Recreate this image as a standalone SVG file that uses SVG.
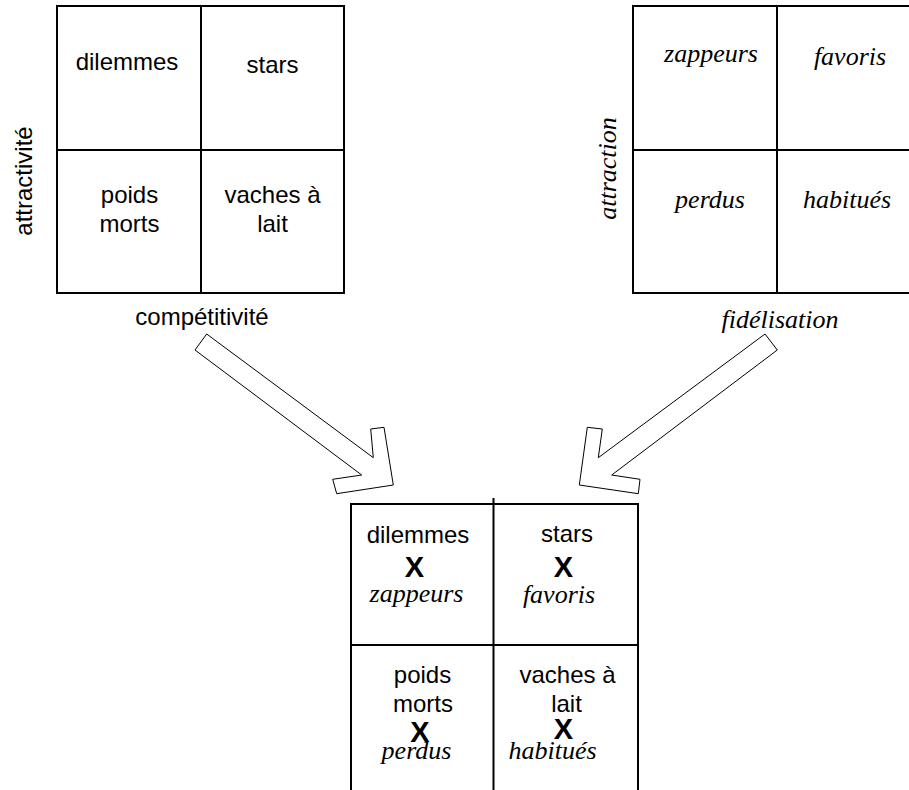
<svg xmlns="http://www.w3.org/2000/svg" width="909" height="790" viewBox="0 0 909 790">
<style>
.ln{stroke:#000;stroke-width:2;fill:none}
.sans{font-family:"Liberation Sans",Arial,sans-serif;font-size:24px;fill:#000;text-anchor:middle}
.ser{font-family:"Liberation Serif","Times New Roman",serif;font-size:26px;font-style:italic;fill:#000;text-anchor:middle}
.x{font-family:"Liberation Sans",Arial,sans-serif;font-size:29px;font-weight:bold;fill:#000;text-anchor:middle}
.arr{fill:#fff;stroke:#000;stroke-width:1}
</style>
<rect width="909" height="790" fill="#fff"/>
<g id="matrix-bcg">
<rect class="ln" x="57" y="6" width="287" height="287"/>
<line class="ln" x1="201" y1="6" x2="201" y2="293"/>
<line class="ln" x1="57" y1="150" x2="344" y2="150"/>
<text class="sans" x="127" y="70">dilemmes</text>
<text class="sans" x="272.5" y="72.5">stars</text>
<text class="sans" x="129.5" y="203">poids</text>
<text class="sans" x="129.5" y="232">morts</text>
<text class="sans" x="272.5" y="203">vaches à</text>
<text class="sans" x="272.5" y="232">lait</text>
<text class="sans" transform="translate(32,181) rotate(-90)">attractivité</text>
<text class="sans" x="202" y="325">compétitivité</text>
</g>
<g id="matrix-clients">
<rect class="ln" x="633" y="6" width="288" height="287"/>
<line class="ln" x1="777" y1="6" x2="777" y2="293"/>
<line class="ln" x1="633" y1="150" x2="921" y2="150"/>
<text class="ser" x="711" y="62">zappeurs</text>
<text class="ser" x="850" y="65">favoris</text>
<text class="ser" x="710" y="208">perdus</text>
<text class="ser" x="847" y="208">habitués</text>
<text class="ser" transform="translate(616,168.5) rotate(-90)">attraction</text>
<text class="ser" x="780" y="328">fidélisation</text>
</g>
<g id="connectors">
<polygon class="arr" points="206.7,334 373.3,457.7 370.7,429 384,427.3 393.3,485 336.7,493.7 332.7,479.3 361.7,475 195,350"/>
<polygon class="arr" points="765,334 777.3,350 611.7,475 640,479.3 638.3,493.7 579.3,485 587.3,427.3 602.3,429 598.3,457.7"/>
</g>
<g id="matrix-combined">
<polyline class="ln" points="351,790 351,504 638,504 638,790"/>
<line class="ln" x1="493.5" y1="498" x2="493.5" y2="790"/>
<line class="ln" x1="351" y1="645" x2="638" y2="645"/>
<text class="sans" x="418" y="543">dilemmes</text>
<text class="x" x="414.5" y="577">X</text>
<text class="ser" x="416.5" y="601.5">zappeurs</text>
<text class="sans" x="567" y="541.5">stars</text>
<text class="x" x="563.5" y="577">X</text>
<text class="ser" x="559" y="603">favoris</text>
<text class="sans" x="422.5" y="683">poids</text>
<text class="sans" x="423" y="711.5">morts</text>
<text class="x" x="420" y="741.5">X</text>
<text class="ser" x="416.5" y="759">perdus</text>
<text class="sans" x="567.5" y="683">vaches à</text>
<text class="sans" x="566.5" y="711.5">lait</text>
<text class="x" x="563.5" y="739">X</text>
<text class="ser" x="552.5" y="759">habitués</text>
</g>
</svg>
